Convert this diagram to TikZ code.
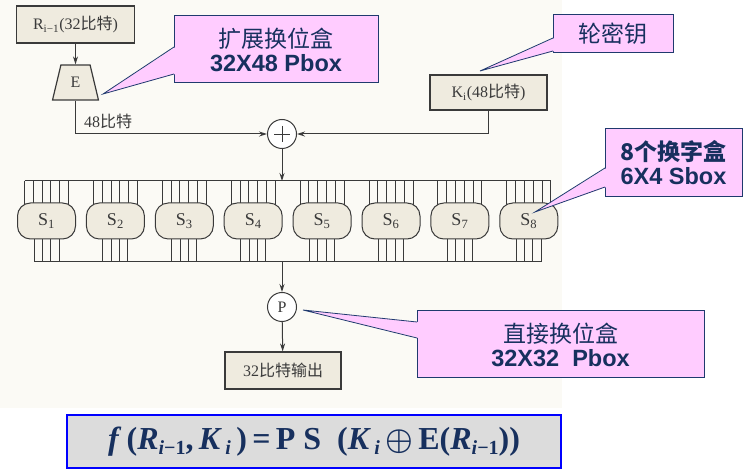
\documentclass[tikz,border=0pt]{standalone}
\usepackage{fontspec}
\setmainfont{Liberation Serif}
\setsansfont{Liberation Sans}
\newfontfamily\cjk{Noto Sans CJK SC}
\usetikzlibrary{shapes.geometric,arrows.meta}
\definecolor{ln}{HTML}{3A3A3A}
\definecolor{bx}{HTML}{EFEBDF}
\definecolor{pk}{HTML}{FFCCFF}
\definecolor{nv}{HTML}{1F3A6E}
\definecolor{tx}{HTML}{17305E}
\definecolor{fg}{HTML}{DCDCDC}
\definecolor{bl}{HTML}{0000FF}
\definecolor{scan}{HTML}{FBFAF5}
\newcommand\bi[1]{\textbf{\textit{#1}}}
\newcommand\lo[1]{\textsubscript{#1}}
\newcommand\flo[1]{\raisebox{-0.35ex}{\fontsize{20}{20}\selectfont #1}}
\begin{document}
\begin{tikzpicture}[x=1pt,y=-1pt,
  wire/.style={draw=ln, line width=1pt},
  arr/.style={wire, -{Stealth[length=8pt,width=5pt]}},
  gbox/.style={draw=ln, line width=1.2pt, fill=bx, inner sep=0pt, text=ln, font=\fontsize{16}{18}\selectfont},
  sbox/.style={draw=ln, line width=1pt, fill=bx, rounded corners=13pt, minimum width=58pt, minimum height=36pt, inner sep=0pt, text=ln, font=\fontsize{18}{18}\selectfont},
  ring/.style={circle, draw=ln, line width=1pt, fill=white, minimum size=29pt, inner sep=0pt, text=ln, font=\fontsize{16}{18}\selectfont},
  call/.style={draw=nv, line width=1pt, fill=pk, text=tx, inner sep=0pt, align=center, font=\fontsize{23}{25}\selectfont},
  ptr/.style={draw=nv, line width=0.8pt}
]
\useasboundingbox (0,0) rectangle (745,470);
\fill[white] (0,0) rectangle (745,470);
\fill[scan] (0,0) rectangle (562,408);

% top part
\node[gbox, minimum width=118pt, minimum height=37pt] (R) at (75.5,24.5) {R\lo{i−1}(32{\cjk 比特})};
\node[trapezium, trapezium stretches=true, trapezium left angle=75, trapezium right angle=75,
      draw=ln, line width=1.2pt, fill=bx, minimum width=46pt, minimum height=35pt, inner sep=0pt,
      text=ln, font=\fontsize{16}{18}\selectfont] (E) at (75.5,82.5) {E};
\draw[arr] (R) -- (E);
\node[ring] (xor) at (282,134) {};
\draw[ln, line width=0.9pt] ([yshift=-7pt]xor.north) -- ([yshift=7pt]xor.south)
                            ([xshift=7pt]xor.west) -- ([xshift=-7pt]xor.east);
\node[gbox, minimum width=117pt, minimum height=35pt] (K) at (488.5,92.5) {K\lo{i}(48{\cjk 比特})};
\draw[arr] (E.south) |- (xor.west);
\draw[arr] (K.south) |- (xor.east);
\node[anchor=base west, text=ln, font=\fontsize{16}{18}\selectfont, inner sep=0pt] (lab48) at (84,128) {48{\cjk 比特}};

% S-box row
\coordinate (tb) at (282,181);
\coordinate (bb) at (282,262);
\draw[arr] (xor) -- (tb);
\draw[wire] (24.5,181) -- (550.8,181);
\draw[wire] (34,262) -- (541.3,262);
\foreach \k in {1,...,8}{
  \pgfmathsetmacro\cx{46.5+68.9*(\k-1)}
  \foreach \dx in {-22,-13.2,-4.4,4.4,13.2,22} \draw[wire] (\cx+\dx,181) -- (\cx+\dx,215);
  \foreach \dx in {-12.5,-4.17,4.17,12.5} \draw[wire] (\cx+\dx,230) -- (\cx+\dx,262);
  \node[sbox] (s\k) at (\cx,221) {S\lo{\k}};
}

% bottom part
\node[ring] (P) at (282,307) {P};
\draw[arr] (bb) -- (P);
\node[gbox, minimum width=116pt, minimum height=37pt] (out) at (283,370.5) {32{\cjk 比特输出}};
\draw[arr] (P) -- (out);

% callouts
\node[call, minimum width=204pt, minimum height=67pt] (c1) at (276,49.5)
  {{\cjk 扩展换位盒}\\[-1pt]{\fontsize{23.5}{25}\selectfont\sffamily\bfseries 32X48 Pbox}};
\coordinate (t1) at (103,94);
\fill[pk] (175.5,47) -- (t1) -- (175.5,74) -- cycle;
\draw[ptr] (174,47) -- (t1) -- (174,74);

\node[call, minimum width=120pt, minimum height=38pt] (c2) at (613,34) {{\cjk 轮密钥}};
\coordinate (t2) at (480,71);
\fill[pk] (554.5,38) -- (t2) -- (554.5,51) -- cycle;
\draw[ptr] (553,38) -- (t2) -- (553,51);

\node[call, minimum width=137pt, minimum height=68pt] (c3) at (673.5,163)
  {{\cjk\bfseries 8个换字盒}\\[-1pt]{\fontsize{23.5}{25}\selectfont\sffamily\bfseries 6X4 Sbox}};
\coordinate (t3) at (535,212);
\fill[pk] (606.5,168) -- (t3) -- (606.5,187) -- cycle;
\draw[ptr] (605,168) -- (t3) -- (605,187);

\node[call, minimum width=287pt, minimum height=67pt] (c4) at (560.5,344.5)
  {{\cjk 直接换位盒}\\[-1pt]{\fontsize{23.5}{25}\selectfont\sffamily\bfseries 32X32\ \ Pbox}};
\coordinate (t4) at (303,310);
\fill[pk] (418.5,322) -- (t4) -- (418.5,338) -- cycle;
\draw[ptr] (417,322) -- (t4) -- (417,338);

% formula
\node[draw=bl, line width=1.2pt, fill=fg, minimum width=494pt, minimum height=53pt, inner sep=0pt,
      text=tx, font=\fontsize{32}{34}\selectfont\bfseries] (fm) at (314,441.5)
  {\bi{f}\,(\bi{R}\flo{\bi{i}−1},\,\bi{K}\flo{\,\bi{i}}\,)\,=\,P S\ \ (\bi{K}\flo{\,\bi{i}}\,\scalebox{1.25}{\boldmath$\oplus$}\,E(\bi{R}\flo{\bi{i}−1}))\hspace{10pt}};
\end{tikzpicture}
\end{document}
